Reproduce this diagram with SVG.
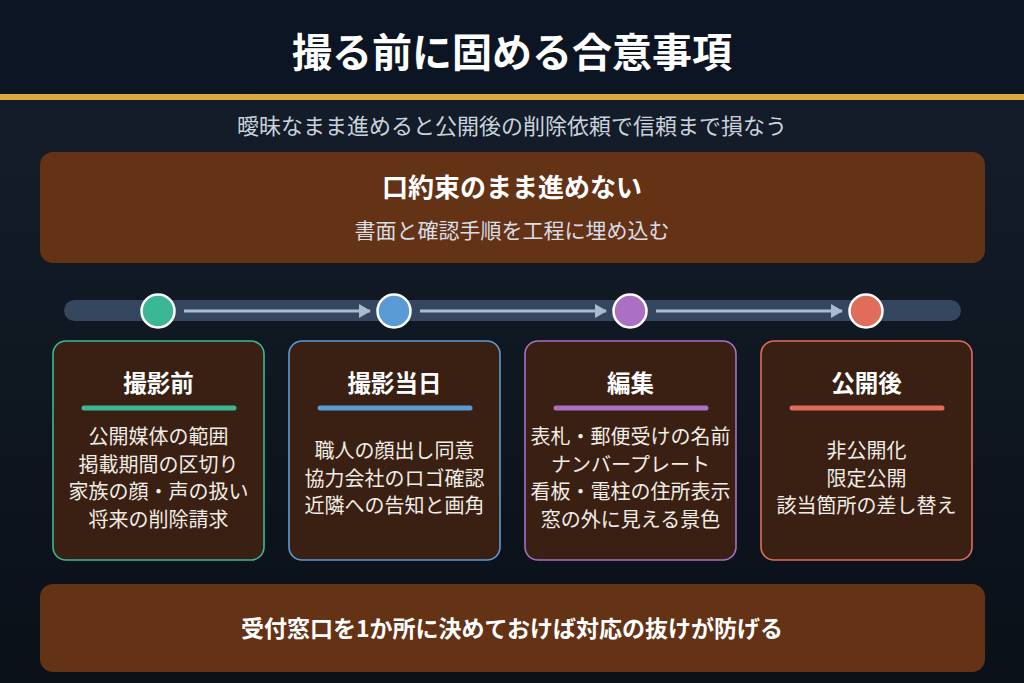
<svg xmlns="http://www.w3.org/2000/svg" width="1024" height="683" viewBox="0 0 1024 683">
<defs>
<linearGradient id="bg" x1="0" y1="0" x2="0" y2="1">
<stop offset="0" stop-color="#151f2c"/>
<stop offset="1" stop-color="#0a1018"/>
</linearGradient>
<marker id="ah" markerWidth="12" markerHeight="14" refX="11" refY="7" orient="auto" markerUnits="userSpaceOnUse">
<path d="M0,0 L12,7 L0,14 Z" fill="#a9bccf"/>
</marker>
<style>
text{font-family:"Noto Sans CJK JP","Noto Sans",sans-serif;text-anchor:middle}
.title{font-size:40px;font-weight:700;fill:#ffffff}
.sub{font-size:22px;fill:#c9d1dc}
.bt{font-size:26px;font-weight:700;fill:#ffffff}
.bs{font-size:21px;fill:#d9dde5}
.bb{font-size:23px;font-weight:700;fill:#ffffff}
.ct{font-size:23.5px;font-weight:700;fill:#ffffff}
.cb{font-size:20px;fill:#f1ece6}
.band{fill:#643316}
.card{fill:#3a2012;stroke-width:1.6}
.arrow{stroke:#a9bccf;stroke-width:3;fill:none}
.dot{stroke:#ffffff;stroke-width:2.5}
</style>
</defs>
<rect width="1024" height="683" fill="url(#bg)"/>
<rect width="1024" height="95" fill="#0b1523"/>
<rect y="94" width="1024" height="6" fill="#dba843"/>
<text class="title" x="512" y="67">撮る前に固める合意事項</text>
<text class="sub" x="512" y="134">曖昧なまま進めると公開後の削除依頼で信頼まで損なう</text>

<g id="top-band">
<rect class="band" x="40" y="152" width="945" height="111" rx="13"/>
<text class="bt" x="512" y="197">口約束のまま進めない</text>
<text class="bs" x="512" y="238">書面と確認手順を工程に埋め込む</text>
</g>

<g id="track">
<rect x="64" y="300" width="897" height="21" rx="10.5" fill="#34475e"/>
</g>

<g id="connectors">
<line class="arrow" x1="184" y1="311" x2="370" y2="311" marker-end="url(#ah)"/>
<line class="arrow" x1="420" y1="311" x2="606" y2="311" marker-end="url(#ah)"/>
<line class="arrow" x1="656" y1="311" x2="842" y2="311" marker-end="url(#ah)"/>
</g>

<g id="dots">
<circle class="dot" cx="158" cy="311" r="16.5" fill="#3cb795"/>
<circle class="dot" cx="394" cy="311" r="16.5" fill="#5a9bd5"/>
<circle class="dot" cx="630" cy="311" r="16.5" fill="#a970c4"/>
<circle class="dot" cx="866" cy="311" r="16.5" fill="#e06c5b"/>
</g>

<g id="card-before">
<rect class="card" x="53" y="341" width="211" height="219" rx="13" stroke="#3cb795"/>
<text class="ct" x="158.5" y="392">撮影前</text>
<line x1="84" y1="408" x2="234" y2="408" stroke="#3cb795" stroke-width="5" stroke-linecap="round"/>
<text class="cb" x="158.5" y="444">公開媒体の範囲</text>
<text class="cb" x="158.5" y="471.5">掲載期間の区切り</text>
<text class="cb" x="158.5" y="499">家族の顔・声の扱い</text>
<text class="cb" x="158.5" y="526.5">将来の削除請求</text>
</g>

<g id="card-day">
<rect class="card" x="289" y="341" width="211" height="219" rx="13" stroke="#5a9bd5"/>
<text class="ct" x="394.5" y="392">撮影当日</text>
<line x1="320" y1="408" x2="470" y2="408" stroke="#5a9bd5" stroke-width="5" stroke-linecap="round"/>
<text class="cb" x="394.5" y="458">職人の顔出し同意</text>
<text class="cb" x="394.5" y="485.5">協力会社のロゴ確認</text>
<text class="cb" x="394.5" y="513">近隣への告知と画角</text>
</g>

<g id="card-edit">
<rect class="card" x="525" y="341" width="211" height="219" rx="13" stroke="#a970c4"/>
<text class="ct" x="630.5" y="392">編集</text>
<line x1="556" y1="408" x2="706" y2="408" stroke="#a970c4" stroke-width="5" stroke-linecap="round"/>
<text class="cb" x="630.5" y="444">表札・郵便受けの名前</text>
<text class="cb" x="630.5" y="471.5">ナンバープレート</text>
<text class="cb" x="630.5" y="499">看板・電柱の住所表示</text>
<text class="cb" x="630.5" y="526.5">窓の外に見える景色</text>
</g>

<g id="card-after">
<rect class="card" x="761" y="341" width="211" height="219" rx="13" stroke="#e06c5b"/>
<text class="ct" x="866.5" y="392">公開後</text>
<line x1="792" y1="408" x2="942" y2="408" stroke="#e06c5b" stroke-width="5" stroke-linecap="round"/>
<text class="cb" x="866.5" y="458">非公開化</text>
<text class="cb" x="866.5" y="485.5">限定公開</text>
<text class="cb" x="866.5" y="513">該当箇所の差し替え</text>
</g>

<g id="bottom-band">
<rect class="band" x="40" y="584" width="945" height="88" rx="13"/>
<text class="bb" x="512" y="637">受付窓口を1か所に決めておけば対応の抜けが防げる</text>
</g>
</svg>
